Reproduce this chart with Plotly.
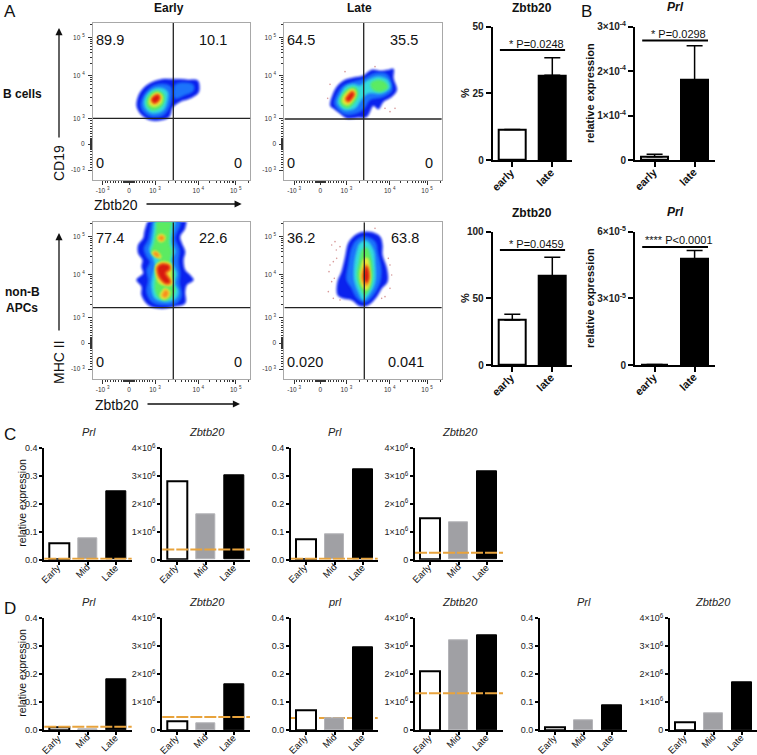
import plotly.graph_objects as go
import math

W, H = 757, 755
FONT = "Liberation Sans"

# ---------- data ----------
TOP_CATS = ["early", "late"]
TIME_CATS = ["Early", "Mid", "Late"]

a1_vals = [11.4, 31.8]; a1_err = [0, 6.6]
a2_vals = [33.8, 66.8]; a2_err = [4.2, 14.0]
b1_vals = [0.075e-4, 1.8e-4]; b1_err = [0.055e-4, 0.77e-4]
b2_vals = [0.02e-5, 4.77e-5]; b2_err = [0, 0.38e-5]

c1_vals = [0.059, 0.077, 0.2455]; c1_cut = 0.003
c2_vals = [2.80e6, 1.64e6, 3.02e6]; c2_cut = 0.37e6
c3_vals = [0.074, 0.090, 0.325]; c3_cut = 0.003
c4_vals = [1.485e6, 1.34e6, 3.16e6]; c4_cut = 0.25e6
d1_vals = [0.009, 0.001, 0.183]; d1_cut = 0.012
d2_vals = [0.32e6, 0.24e6, 1.64e6]; d2_cut = 0.47e6
d3_vals = [0.070, 0.043, 0.297]; d3_cut = 0.043
d4_vals = [2.11e6, 3.20e6, 3.40e6]; d4_cut = 1.32e6
d5_vals = [0.008, 0.034, 0.087]
d6_vals = [0.275e6, 0.61e6, 1.71e6]

PRL_TICKS = [0, 0.1, 0.2, 0.3, 0.4]
PRL_LABELS = ["0.0", "0.1", "0.2", "0.3", "0.4"]
Z_TICKS = [0, 1e6, 2e6, 3e6, 4e6]
Z_LABELS = ["0", "1×10<sup>6</sup>", "2×10<sup>6</sup>", "3×10<sup>6</sup>", "4×10<sup>6</sup>"]

LEVEL = ["#0a22ee", "#1c74fb", "#35dcdc", "#5ceb62", "#e8ea3c", "#f88e1e", "#d81a10"]

# flow density outlines, as (x, y) on a 3x enlarged crop of each plot
bE = [
 [[(20,100),(28,72),(45,50),(70,35),(105,27),(128,28),(150,28),(175,30),(203,32),(208,50),(205,68),(180,85),(150,95),(128,112),(118,140),(95,150),(60,150),(35,135),(22,115)]],
 [[(32,105),(42,75),(65,50),(95,42),(122,50),(125,80),(118,110),(100,135),(65,140),(40,125)],
  [(135,45),(165,38),(190,45),(190,62),(165,75),(135,85)]],
 [[(42,100),(50,75),(70,58),(95,55),(112,65),(112,90),(100,120),(70,130),(50,120)]],
 [[(50,95),(60,72),(80,62),(100,72),(102,95),(88,115),(65,120),(53,110)]],
 [[(57,92),(68,74),(85,68),(96,78),(93,100),(75,110),(60,105)]],
 [[(63,90),(72,76),(85,72),(92,82),(85,97),(72,102),(65,97)]],
 [[(66,88),(75,78),(85,76),(88,84),(82,94),(72,98)]],
]
bL = [
 [[(16,122),(25,85),(40,60),(60,45),(85,38),(115,32),(140,15),(165,18),(190,15),(205,12),(205,40),(215,75),(200,95),(175,110),(160,132),(145,122),(125,155),(95,158),(65,160),(45,145),(25,130)]],
 [[(28,115),(38,85),(55,62),(85,50),(115,42),(150,25),(185,28),(200,55),(200,78),(175,95),(135,105),(118,130),(95,145),(60,148),(40,135)]],
 [[(38,112),(48,85),(62,65),(85,58),(105,62),(125,48),(160,35),(188,45),(195,68),(170,85),(130,85),(108,105),(90,130),(60,135),(45,125)]],
 [[(45,108),(55,85),(72,70),(92,68),(100,85),(90,110),(70,128),(52,122)],
  [(138,55),(160,45),(180,52),(188,68),(165,80),(142,72)]],
 [[(52,105),(62,85),(80,72),(92,80),(88,100),(70,120),(56,116)]],
 [[(60,105),(68,88),(82,77),(90,85),(84,100),(70,113)]],
 [[(64,103),(72,90),(82,82),(86,88),(80,100),(70,108)]],
]
nE = [
 [[(65,-10),(45,30),(40,55),(25,75),(25,100),(38,120),(35,140),(40,160),(20,180),(35,200),(35,225),(55,255),(90,265),(130,260),(165,250),(165,215),(170,195),(190,180),(180,165),(165,150),(160,120),(165,95),(155,70),(150,50),(165,25),(165,-10)]],
 [[(75,-10),(60,35),(55,60),(42,85),(50,110),(60,125),(50,150),(55,180),(50,215),(65,245),(100,255),(140,250),(155,225),(148,190),(150,160),(145,125),(148,90),(135,55),(150,15),(150,-10)]],
 [[(80,-10),(70,35),(65,65),(58,90),(70,115),(75,135),(68,170),(65,200),(75,235),(105,245),(135,238),(145,215),(135,190),(140,160),(125,120),(135,95),(125,65),(130,30),(135,-10)]],
 [[(85,-10),(78,35),(72,70),(65,95),(90,118),(82,135),(78,170),(75,205),(85,232),(110,240),(130,225),(135,205),(125,190),(132,165),(120,125),(125,95),(118,70),(120,35),(125,-10)]],
 [[(82,50),(92,42),(105,48),(103,62),(88,65)],
  [(65,98),(75,92),(92,105),(92,115),(78,112)],
  [(78,135),(95,125),(122,132),(125,170),(130,190),(118,198),(88,190),(78,165)],
  [(90,228),(105,205),(120,215),(115,232),(100,238)]],
 [[(85,55),(93,47),(102,52),(97,62)],
  [(70,100),(78,96),(88,108),(80,110)],
  [(80,140),(95,130),(120,135),(122,150),(112,160),(122,178),(124,190),(110,195),(90,180),(82,165)],
  [(97,228),(107,210),(115,218),(108,232)]],
 [[(84,142),(97,133),(117,138),(117,148),(105,158),(118,180),(118,188),(105,188),(90,172),(85,160)]],
]
nL = [
 [[(70,55),(85,35),(110,22),(140,22),(165,35),(172,60),(172,90),(185,130),(187,170),(170,190),(155,215),(130,240),(105,243),(80,225),(55,220),(38,210),(38,170),(50,140),(60,100)]],
 [[(80,70),(95,45),(120,35),(150,50),(158,85),(168,130),(165,170),(145,210),(120,232),(95,218),(80,190),(65,165),(70,120)]],
 [[(95,80),(105,55),(125,48),(145,75),(150,115),(150,170),(135,205),(115,225),(100,200),(88,165),(88,120)]],
 [[(103,110),(112,75),(125,68),(138,100),(142,150),(135,190),(120,210),(107,190),(97,150)]],
 [[(108,130),(118,100),(128,100),(135,135),(136,170),(125,195),(112,185),(105,155)]],
 [[(112,140),(122,118),(130,125),(133,155),(128,180),(118,180),(110,160)]],
 [[(117,145),(124,125),(129,135),(131,160),(125,172),(118,165)]],
]
bL_dots = [(15,58),(180,130),(210,130),(150,5),(195,140),(60,20),(8,100)]
nL_dots = [(20,60),(30,50),(45,65),(25,110),(15,120),(35,100),(20,170),(10,200),(28,160),(25,220),(45,225),(190,100),(200,150),(195,190),(170,220),(150,10),(12,140),(34,75),(195,120),(180,215)]

# ---------- helpers ----------
fig = go.Figure()
layout = {}
shapes, annots = [], []
ax_n = [0]

def px(x): return x / W
def py(y): return 1 - y / H

def text(x, y, s, size=12, bold=False, italic=False, angle=0, color="#111", xanchor="center"):
    if bold: s = f"<b>{s}</b>"
    if italic: s = f"<i>{s}</i>"
    annots.append(dict(x=px(x), y=py(y), xref="paper", yref="paper", text=s, showarrow=False,
                       font=dict(family=FONT, size=size, color=color), textangle=angle,
                       xanchor=xanchor, yanchor="middle"))

def arrow(x0, y0, x1, y1):
    annots.append(dict(x=px(x1), y=py(y1), xref="paper", yref="paper", ax=x0 - x1, ay=y0 - y1,
                       axref="pixel", ayref="pixel", text="", showarrow=True, arrowhead=2,
                       arrowsize=1.1, arrowwidth=1.3, arrowcolor="#111"))

def new_axes(l, r, t, b):
    ax_n[0] += 1
    n = ax_n[0]
    sx = "" if n == 1 else str(n)
    return (f"x{sx}", f"y{sx}", f"xaxis{sx}", f"yaxis{sx}",
            [px(l), px(r)], [py(b), py(t)])

def bars(l, r, t, b, vals, ytop, yt, yl, cats, spacing, x0_off, width,
         errs=None, tick_size=9, bold=False, cat_size=9.5, cut=None, ticklen=3, cut_layer="above",
         cat_dx=0, cat_dy=6):
    xa, ya, xk, yk, xd, yd = new_axes(l, r, t, b)
    pos = list(range(len(vals)))
    fills = ["white", "#a0a0a4", "black"] if len(vals) == 3 else ["white", "black"]
    lines = ["black", "#b4b4b8", "black"] if len(vals) == 3 else ["black", "black"]
    fig.add_trace(go.Bar(x=pos, y=vals, xaxis=xa, yaxis=ya, width=width, showlegend=False,
                         marker=dict(color=fills, line=dict(color=lines, width=[2, 1, 1][:len(vals)] if len(vals)==3 else [2, 2])),
                         error_y=None if errs is None else dict(type="data", symmetric=False, array=errs,
                             arrayminus=[0]*len(errs), color="black", thickness=1.5, width=8)))
    layout[xk] = dict(domain=xd, anchor=ya, range=[-x0_off / spacing, (r - l - x0_off) / spacing], automargin=False,
                      tickvals=pos, showticklabels=False,
                      showline=True, linecolor="black", linewidth=2, ticks="outside", ticklen=ticklen,
                      tickwidth=1.5, tickcolor="black", showgrid=False, zeroline=False)
    for p, c in zip(pos, cats):
        tx = l + x0_off + p * spacing
        half = len(c) * cat_size * 0.24
        text(tx - half * 0.71 + cat_dx, b + cat_dy + half * 0.71, c, cat_size, bold=bold, angle=-45)
    layout[yk] = dict(domain=yd, anchor=xa, range=[0, ytop], tickvals=yt, automargin=False,
                      ticktext=[f"<b>{s}</b>" if bold else s for s in yl],
                      showline=True, linecolor="black", linewidth=2, ticks="outside", ticklen=ticklen,
                      tickwidth=1.5, tickcolor="black", showgrid=False, zeroline=False,
                      tickfont=dict(family=FONT, size=tick_size, color="#222"))
    if cut is not None:
        shapes.append(dict(type="line", xref=f"{xa} domain", yref=ya, x0=0, x1=1, y0=cut, y1=cut,
                           line=dict(color="#e8a33c", width=2, dash="12px,2px"), layer=cut_layer))
    return xa, ya

def pbar(xa, ya, x0, x1, y):
    shapes.append(dict(type="line", xref=xa, yref=ya, x0=x0, x1=x1, y0=y, y1=y,
                       line=dict(color="black", width=2)))

def flow(l, t, x_major, y_major, blob, ox, oy, gx, gy, dots=None):
    r, b = l + 157.4, t + 157
    xa, ya, xk, yk, xd, yd = new_axes(l, r, t, b)
    for lev, polys in enumerate(blob):
        for poly in polys:
            xs = [ox + p[0] / 3 for p in poly] + [ox + poly[0][0] / 3]
            ys = [oy + p[1] / 3 for p in poly] + [oy + poly[0][1] / 3]
            fig.add_trace(go.Scatter(x=xs, y=ys, xaxis=xa, yaxis=ya, mode="lines", fill="toself",
                                     fillcolor=LEVEL[lev], line=dict(color=LEVEL[lev], width=0.5, shape="spline", smoothing=1),
                                     showlegend=False, hoverinfo="skip"))
    if dots:
        fig.add_trace(go.Scatter(x=[ox + p[0] / 3 for p in dots], y=[oy + p[1] / 3 for p in dots],
                                 xaxis=xa, yaxis=ya, mode="markers", showlegend=False,
                                 marker=dict(size=1.6, color="#d79a9a")))
    def minors(m):
        out = []
        neg, zero, p3, p4, p5 = m
        for a, c in ((p3, p4), (p4, p5)):
            out += [a + (c - a) * math.log10(k) for k in range(2, 10)]
        step = p4 - p3
        out += [p5 + step * math.log10(2), p5 + step * math.log10(3)]
        for frac in [0.025, 0.05, 0.075, 0.1, 0.13, 0.16, 0.2, 0.3, 0.4, 0.5, 0.6, 0.7, 0.8, 0.9]:
            out.append(zero + (p3 - zero) * frac)
            out.append(zero + (neg - zero) * frac)
        return out
    lbl = ["-10 <sup>3</sup>", "0", "10 <sup>3</sup>", "10 <sup>4</sup>", "10 <sup>5</sup>"]
    common = dict(showline=True, mirror=True, linecolor="#a8a8a8", linewidth=1, ticks="outside", automargin=False,
                  ticklen=4, tickwidth=1, tickcolor="#333", showgrid=False, zeroline=False,
                  tickfont=dict(family=FONT, size=6.5, color="#333"), ticktext=lbl, tickangle=0)
    layout[xk] = dict(domain=xd, anchor=ya, range=[0, 157.4], tickvals=x_major,
                      minor=dict(tickvals=minors(x_major), ticks="outside", ticklen=2, tickwidth=0.8, tickcolor="#333", showgrid=False),
                      **common)
    layout[yk] = dict(domain=yd, anchor=xa, range=[157, 0], tickvals=y_major, ticklabelstandoff=2,
                      minor=dict(tickvals=minors(y_major), ticks="outside", ticklen=2, tickwidth=0.8, tickcolor="#333", showgrid=False),
                      **common)
    shapes.append(dict(type="line", xref=xa, yref=ya, x0=gx, x1=gx, y0=0, y1=157,
                       line=dict(color="#222", width=1.3), layer="above"))
    shapes.append(dict(type="line", xref=xa, yref=ya, x0=0, x1=157.4, y0=gy, y1=gy,
                       line=dict(color="#222", width=1.3), layer="above"))

# ---------- flow panels ----------
X_TICK = [9.7, 36, 62, 105.3, 142.7]
Y_TICK_T = [147, 121, 95.3, 52.3, 14.7]
Y_TICK_B = [146.7, 120.7, 95.4, 52, 14.4]
flow(93, 23, X_TICK, Y_TICK_T, bE, 37, 47, 80.3, 95.3)
flow(284.4, 23, X_TICK, Y_TICK_T, bL, 40.6, 42, 79.3, 96, bL_dots)
flow(93, 222.3, X_TICK, Y_TICK_B, nE, 37, -2.3, 80.3, 85.4)
flow(284.4, 222.3, X_TICK, Y_TICK_B, nL, 40.6, 2.7, 79.9, 85.4, nL_dots)

# ---------- top bars ----------
TOP_SP, TOP_OFF, TOP_W = 40, 19.6, 0.66
TOPSTYLE = dict(tick_size=10, bold=True, cat_size=11, ticklen=5, cat_dx=1, cat_dy=10)
A1 = bars(492.7, 571.7, 26.7, 160, a1_vals, 50, [0, 25, 50], ["0", "25", "50"], TOP_CATS, TOP_SP, TOP_OFF, TOP_W,
          a1_err, **TOPSTYLE)
pbar(A1[0], A1[1], -0.31, 1.32, 41.25)
B1 = bars(635, 715, 26.7, 160, b1_vals, 3e-4, [0, 1e-4, 2e-4, 3e-4],
          ["0", "1×10<sup>-4</sup>", "2×10<sup>-4</sup>", "3×10<sup>-4</sup>"], TOP_CATS, TOP_SP, TOP_OFF, TOP_W,
          b1_err, **TOPSTYLE)
pbar(B1[0], B1[1], -0.31, 1.335, 2.69e-4)
A2 = bars(492.7, 571.7, 231.7, 365, a2_vals, 100, [0, 50, 100], ["0", "50", "100"], TOP_CATS, TOP_SP, TOP_OFF, TOP_W,
          a2_err, **TOPSTYLE)
pbar(A2[0], A2[1], -0.31, 1.32, 86.3)
B2 = bars(635, 715, 231.7, 365, b2_vals, 6e-5, [0, 3e-5, 6e-5],
          ["0", "3×10<sup>-5</sup>", "6×10<sup>-5</sup>"], TOP_CATS, TOP_SP, TOP_OFF, TOP_W,
          b2_err, **TOPSTYLE)
pbar(B2[0], B2[1], -0.31, 1.335, 5.31e-5)

# ---------- time course bars ----------
SP, OFF, BW = 28.5, 15, 0.70
TC = dict(cats=TIME_CATS, spacing=SP, x0_off=OFF, width=BW)
Y_C = (448.3, 559.7)
Y_D = (618.3, 730)
bars(44.3, 131.7, *Y_C, c1_vals, 0.4, PRL_TICKS, PRL_LABELS, cut=c1_cut, **TC)
bars(162.3, 250, *Y_C, c2_vals, 4e6, Z_TICKS, Z_LABELS, cut=c2_cut, **TC)
bars(291, 377.7, *Y_C, c3_vals, 0.4, PRL_TICKS, PRL_LABELS, cut=c3_cut, **TC)
bars(415, 503, *Y_C, c4_vals, 4e6, Z_TICKS, Z_LABELS, cut=c4_cut, **TC)
bars(44.3, 131.7, *Y_D, d1_vals, 0.4, PRL_TICKS, PRL_LABELS, cut=d1_cut, **TC)
bars(162.3, 250, *Y_D, d2_vals, 4e6, Z_TICKS, Z_LABELS, cut=d2_cut, **TC)
bars(291, 377.7, *Y_D, d3_vals, 0.4, PRL_TICKS, PRL_LABELS, cut=d3_cut, cut_layer="below", **TC)
bars(415, 503, *Y_D, d4_vals, 4e6, Z_TICKS, Z_LABELS, cut=d4_cut, **TC)
bars(540, 626.7, *Y_D, d5_vals, 0.4, PRL_TICKS, PRL_LABELS, **TC)
bars(670, 756.5, *Y_D, d6_vals, 4e6, Z_TICKS, Z_LABELS, **TC)

# ---------- text ----------
for s, x, y in [("A", 10, 12), ("B", 586, 11), ("C", 10, 434), ("D", 10, 608)]:
    text(x, y, s, size=17, color="#111")
text(169, 7.5, "Early", 12, bold=True)
text(359, 7.5, "Late", 12, bold=True)
text(22, 94, "B cells", 12, bold=True)
text(22, 292, "non-B", 12, bold=True)
text(22, 308, "APCs", 12, bold=True)

text(59, 163, "CD19", 14, angle=-90); arrow(59, 139, 59, 28)
text(116, 205, "Zbtb20", 14); arrow(145, 204, 241.7, 204)
text(59, 362, "MHC II", 14, angle=-90); arrow(59, 332, 59, 233)
text(117, 405, "Zbtb20", 14); arrow(146, 404, 240, 404)

FLOW_TXT = [
    (110, 39.5, "89.9"), (212.7, 39.5, "10.1"), (100, 163, "0"), (237.7, 163, "0"),
    (301.3, 39.5, "64.5"), (404, 39.5, "35.5"), (291, 163, "0"), (428.7, 163, "0"),
    (110, 238.3, "77.4"), (212.7, 238.3, "22.6"), (100, 362.3, "0"), (237.7, 362.3, "0"),
    (301.3, 238.3, "36.2"), (405, 238.3, "63.8"), (305.3, 362.3, "0.020"), (406, 362.3, "0.041"),
]
for x, y, s in FLOW_TXT:
    text(x, y, s, 14.5)

text(532, 8, "Zbtb20", 12, bold=True)
text(675, 7, "Prl", 12, bold=True, italic=True)
text(532, 213, "Zbtb20", 12, bold=True)
text(675, 212, "Prl", 12, bold=True, italic=True)
text(465, 93, "%", 11, bold=True, angle=-90)
text(465, 298, "%", 11, bold=True, angle=-90)
text(590, 93, "relative expression", 11, bold=True, angle=-90)
text(590, 298, "relative expression", 11, bold=True, angle=-90)
text(536, 43.5, "* P=0.0248", 11)
text(678, 33.5, "* P=0.0298", 11)
text(536, 243.5, "* P=0.0459", 11)
text(679, 240, "**** P&lt;0.0001", 11)

for x, y, s in [(89, 431.7, "Prl"), (207, 431.7, "Zbtb20"), (335, 431.7, "Prl"), (460, 431.7, "Zbtb20"),
                (89, 601.7, "Prl"), (207, 601.7, "Zbtb20"), (335, 601.7, "prl"), (460, 601.7, "Zbtb20"),
                (584, 601.7, "Prl"), (713, 601.7, "Zbtb20")]:
    text(x, y, s, 11, italic=True, color="#222")
text(21.7, 503, "relative expression", 10.5, angle=-90)
text(21.7, 673, "relative expression", 10.5, angle=-90)

fig.update_layout(width=W, height=H, autosize=False, margin=dict(l=0, r=0, t=0, b=0),
                  paper_bgcolor="white", plot_bgcolor="rgba(0,0,0,0)", showlegend=False,
                  bargap=0, shapes=shapes, annotations=annots, font=dict(family=FONT), **layout)
POST = """
document.body.style.margin='0';document.body.style.overflow='hidden';
document.querySelectorAll('.scatterlayer .trace .js-fill, .scatterlayer .trace .js-line').forEach(function(e){e.style.filter='blur(1.1px)';});
"""
fig.write_html("out.html", config={"displayModeBar": False}, post_script=POST)
